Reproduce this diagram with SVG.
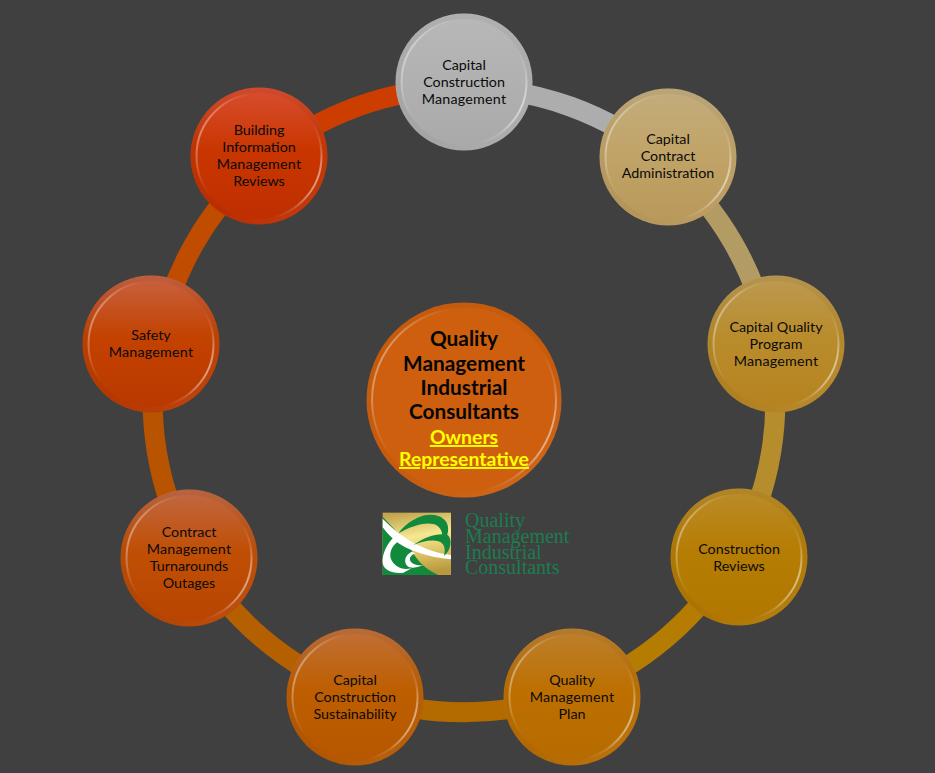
<svg xmlns="http://www.w3.org/2000/svg" width="935" height="773" viewBox="0 0 935 773">
<style>
.t{font-family:"Lato","Open Sans","Liberation Sans",sans-serif;font-size:14.3px;fill:#0a0a0a;text-anchor:middle}
.m{letter-spacing:.2px}
.c{font-family:"Lato","Open Sans","Liberation Sans",sans-serif;font-size:20.8px;font-weight:700;text-anchor:middle;fill:#050505}
.y{fill:#ffff00;text-decoration:underline;font-size:19.4px}
.a{fill:none;stroke-width:20}
.b{fill:none;stroke:url(#bevel);stroke-width:2}
.e{fill:none;stroke:url(#edge);stroke-width:5}
.l{font-family:"Liberation Serif","DejaVu Serif",serif;font-size:20px;fill:#1b7d50}
</style>
<defs>
<linearGradient id="bevel" x1="0.02" y1="0.3" x2="0.98" y2="0.7">
<stop offset="0" stop-color="#fff" stop-opacity=".4"/><stop offset=".14" stop-color="#fff" stop-opacity=".12"/><stop offset=".26" stop-color="#fff" stop-opacity="0"/><stop offset=".78" stop-color="#fff" stop-opacity="0"/><stop offset=".9" stop-color="#fff" stop-opacity=".15"/><stop offset="1" stop-color="#fff" stop-opacity=".55"/>
</linearGradient>
<linearGradient id="edge" x1="0.15" y1="0" x2="0.85" y2="1">
<stop offset="0" stop-color="#000" stop-opacity=".05"/><stop offset=".6" stop-color="#000" stop-opacity=".04"/><stop offset="1" stop-color="#fff" stop-opacity=".06"/>
</linearGradient>
<linearGradient id="g0" x1="0" y1="0" x2="0" y2="1"><stop offset="0" stop-color="#b8b8b8"/><stop offset="1" stop-color="#a9a9a9"/></linearGradient>
<linearGradient id="g1" x1="0" y1="0" x2="0" y2="1"><stop offset="0" stop-color="#c3ad7e"/><stop offset=".45" stop-color="#c1a468"/><stop offset="1" stop-color="#b9985a"/></linearGradient>
<linearGradient id="g2" x1="0" y1="0" x2="0" y2="1"><stop offset="0" stop-color="#bd9a52"/><stop offset=".45" stop-color="#b98c2c"/><stop offset="1" stop-color="#b5831f"/></linearGradient>
<linearGradient id="g3" x1="0" y1="0" x2="0" y2="1"><stop offset="0" stop-color="#ba8c2a"/><stop offset=".45" stop-color="#b67d04"/><stop offset="1" stop-color="#b17700"/></linearGradient>
<linearGradient id="g4" x1="0" y1="0" x2="0" y2="1"><stop offset="0" stop-color="#bc8030"/><stop offset=".45" stop-color="#bd7000"/><stop offset="1" stop-color="#b76b00"/></linearGradient>
<linearGradient id="g5" x1="0" y1="0" x2="0" y2="1"><stop offset="0" stop-color="#c1703a"/><stop offset=".45" stop-color="#bd5e00"/><stop offset="1" stop-color="#b65700"/></linearGradient>
<linearGradient id="g6" x1="0" y1="0" x2="0" y2="1"><stop offset="0" stop-color="#c16844"/><stop offset=".45" stop-color="#c04f05"/><stop offset="1" stop-color="#b84400"/></linearGradient>
<linearGradient id="g7" x1="0" y1="0" x2="0" y2="1"><stop offset="0" stop-color="#c86242"/><stop offset=".45" stop-color="#c34200"/><stop offset="1" stop-color="#b93800"/></linearGradient>
<linearGradient id="g8" x1="0" y1="0" x2="0" y2="1"><stop offset="0" stop-color="#d84e30"/><stop offset=".45" stop-color="#c93600"/><stop offset="1" stop-color="#be2e00"/></linearGradient>
<linearGradient id="gold" x1="0.3" y1="0" x2="0.5" y2="1"><stop offset="0" stop-color="#c4a54e"/><stop offset=".4" stop-color="#f6e892"/><stop offset=".75" stop-color="#d6bb5c"/><stop offset="1" stop-color="#b8993e"/></linearGradient>
<circle id="rim" r="62.500"/>
</defs>
<rect width="935" height="773" fill="#404040"/>
<g id="connectors">
<path class="a" stroke="#adadad" d="M464 88A312 312 0 0 1 665 161"/>
<path class="a" stroke="#b39c63" d="M665 161A312 312 0 0 1 770 344"/>
<path class="a" stroke="#b68d2c" d="M770 344A312 312 0 0 1 736 553"/>
<path class="a" stroke="#b47c00" d="M736 553A312 312 0 0 1 572 693"/>
<path class="a" stroke="#b36b00" d="M572 693A312 312 0 0 1 356 693"/>
<path class="a" stroke="#b56000" d="M356 693A312 312 0 0 1 192 553"/>
<path class="a" stroke="#b85400" d="M192 553A312 312 0 0 1 158 344"/>
<path class="a" stroke="#c04c00" d="M158 344A312 312 0 0 1 263 161"/>
<path class="a" stroke="#cc3e00" d="M263 161A312 312 0 0 1 464 88"/>
</g>
<g id="node-0" transform="translate(464 82)"><circle r="68.500" fill="url(#g0)"/><circle r="65.500" class="e"/><use href="#rim" class="b"/>
<text class="t"><tspan x="0" y="-12">Capital</tspan><tspan x="0" y="5">Construction</tspan><tspan x="0" y="22" class="m">Management</tspan></text></g>
<g id="node-1" transform="translate(668 157)"><circle r="68.500" fill="url(#g1)"/><circle r="65.500" class="e"/><use href="#rim" class="b"/>
<text class="t"><tspan x="0" y="-13">Capital</tspan><tspan x="0" y="4">Contract</tspan><tspan x="0" y="21">Administration</tspan></text></g>
<g id="node-2" transform="translate(776 344)"><circle r="68.500" fill="url(#g2)"/><circle r="65.500" class="e"/><use href="#rim" class="b"/>
<text class="t"><tspan x="0" y="-12">Capital Quality</tspan><tspan x="0" y="5">Program</tspan><tspan x="0" y="22" class="m">Management</tspan></text></g>
<g id="node-3" transform="translate(739 557)"><circle r="68.500" fill="url(#g3)"/><circle r="65.500" class="e"/><use href="#rim" class="b"/>
<text class="t"><tspan x="0" y="-3">Construction</tspan><tspan x="0" y="14">Reviews</tspan></text></g>
<g id="node-4" transform="translate(572 697)"><circle r="68.500" fill="url(#g4)"/><circle r="65.500" class="e"/><use href="#rim" class="b"/>
<text class="t"><tspan x="0" y="-12">Quality</tspan><tspan x="0" y="5" class="m">Management</tspan><tspan x="0" y="22">Plan</tspan></text></g>
<g id="node-5" transform="translate(355 697)"><circle r="68.500" fill="url(#g5)"/><circle r="65.500" class="e"/><use href="#rim" class="b"/>
<text class="t"><tspan x="0" y="-12">Capital</tspan><tspan x="0" y="5">Construction</tspan><tspan x="0" y="22">Sustainability</tspan></text></g>
<g id="node-6" transform="translate(189 558)"><circle r="68.500" fill="url(#g6)"/><circle r="65.500" class="e"/><use href="#rim" class="b"/>
<text class="t"><tspan x="0" y="-21">Contract</tspan><tspan x="0" y="-4" class="m">Management</tspan><tspan x="0" y="13">Turnarounds</tspan><tspan x="0" y="30">Outages</tspan></text></g>
<g id="node-7" transform="translate(151 344)"><circle r="68.500" fill="url(#g7)"/><circle r="65.500" class="e"/><use href="#rim" class="b"/>
<text class="t"><tspan x="0" y="-4">Safety</tspan><tspan x="0" y="13" class="m">Management</tspan></text></g>
<g id="node-8" transform="translate(259 156)"><circle r="68.500" fill="url(#g8)"/><circle r="65.500" class="e"/><use href="#rim" class="b"/>
<text class="t"><tspan x="0" y="-21">Building</tspan><tspan x="0" y="-4">Information</tspan><tspan x="0" y="13" class="m">Management</tspan><tspan x="0" y="30">Reviews</tspan></text></g>
<g id="center" transform="translate(464 400)"><circle r="97.500" fill="#ce5f0e"/><circle r="95" class="e"/><circle r="92" class="b"/>
<text class="c"><tspan x="0" y="-54">Quality</tspan><tspan x="0" y="-29">Management</tspan><tspan x="0" y="-5">Industrial</tspan><tspan x="0" y="19">Consultants</tspan><tspan x="0" y="44" class="y">Owners</tspan><tspan x="0" y="66" class="y">Representative</tspan></text></g>
<g id="logo">
<g transform="translate(370 500) scale(.3333)">
<rect x="38" y="38" width="205" height="187" fill="url(#gold)"/>
<path d="M38 50L118 135C130 170 160 205 205 225H38Z" fill="#128a3c"/>
<path d="M38 56C90 110 160 155 243 165V178C170 170 110 150 75 122C60 108 45 92 38 82Z" fill="#fff"/>
<path d="M75 108C50 130 35 165 38 190C42 212 70 222 100 218L125 205C95 212 72 200 62 175C58 155 66 135 88 122Z" fill="#fff"/>
<path d="M125 155C105 165 100 185 112 198C120 205 135 205 160 196C138 198 122 190 120 180C118 172 125 165 135 160Z" fill="#fff"/>
<path d="M85 100C115 60 165 35 205 48C240 60 245 100 215 132C222 105 215 78 190 72C160 65 120 80 85 100Z" fill="#128a3c"/>
<path d="M130 135C165 110 205 98 232 104C248 115 244 150 222 168C228 145 222 128 205 124C185 118 155 125 130 135Z" fill="#128a3c"/>
</g>
<rect x="458.500" y="512" width="1" height="65" fill="#31415a"/>
<text class="l"><tspan x="465" y="527">Quality</tspan><tspan x="465" y="543">Management</tspan><tspan x="465" y="558.500">Industrial</tspan><tspan x="465" y="574">Consultants</tspan></text>
</g>
</svg>
